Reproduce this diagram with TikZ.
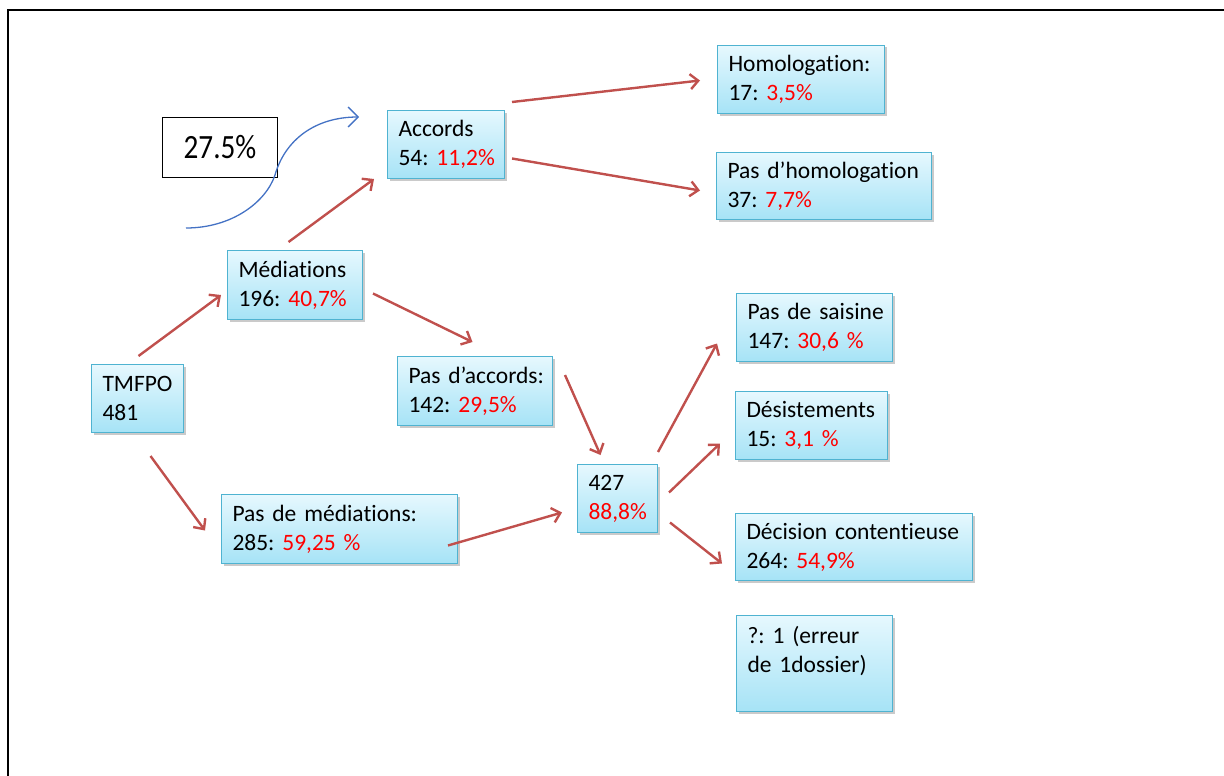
\documentclass[tikz,border=0pt]{standalone}
\usepackage{fontspec}
\setmainfont{Carlito}[Ligatures=NoCommon]
\newfontfamily\narrowfont[FakeStretch=0.86]{Carlito}
\usetikzlibrary{arrows.meta,shadows,calc}

\definecolor{boxtop}{HTML}{E6F8FE}
\definecolor{boxbot}{HTML}{A6E3F6}
\definecolor{boxline}{HTML}{4FB3D1}
\definecolor{arrowred}{HTML}{C0504D}
\definecolor{curveblue}{HTML}{4472C4}
\definecolor{pctred}{HTML}{FF0000}

\newcommand{\pct}[1]{\textcolor{pctred}{#1}}
% two unbroken lines of box text
\newcommand{\twolines}[2]{\mbox{#1}\\\mbox{#2}}

\tikzset{
  box/.style={draw=boxline, line width=1pt, top color=boxtop, bottom color=boxbot,
    drop shadow={shadow xshift=2pt, shadow yshift=-2pt, opacity=0.35, fill=black!60},
    anchor=north west, align=left, inner xsep=11pt, inner ysep=4pt,
    font=\fontsize{23.5}{29}\selectfont},
  flow/.style={draw=arrowred, line width=2.4pt,
    -{Straight Barb[length=8pt,width=15pt,line width=2.4pt]}},
}

\begin{document}
\frenchspacing
\begin{tikzpicture}[x=1pt,y=-1pt]
\useasboundingbox (0,0) rectangle (1224,776);

% page frame (left and top edges)
\draw[line width=2pt] (8,776) -- (8,10) -- (1224,10);

% boxes
\node[box, text width=70pt,  minimum height=68pt] (tmfpo) at (91,364)  {\twolines{TMFPO}{481}};
\node[box, text width=113pt, minimum height=69pt] (med)   at (227,250) {\twolines{Médiations}{196: \pct{40,7\%}}};
\node[box, text width=95pt,  minimum height=68pt] (acc)   at (387,110) {\twolines{Accords}{54: \pct{11,2\%}}};
\node[box, text width=145pt, minimum height=68pt] (hom)   at (717,45)  {\twolines{Homologation:}{17: \pct{3,5\%}}};
\node[box, text width=193pt, minimum height=67pt] (phom)  at (716,152) {\twolines{Pas d’homologation}{37: \pct{7,7\%}}};
\node[box, text width=133pt, minimum height=69pt] (pacc)  at (397,356) {\twolines{Pas d’accords:}{142: \pct{29,5\%}}};
\node[box, text width=214pt, minimum height=69pt] (pmed)  at (221,494) {\twolines{Pas de médiations:}{285: \pct{59,25 \%}}};
\node[box, text width=58pt,  minimum height=68pt] (n427)  at (577,464) {\twolines{427}{\pct{88,8\%}}};
\node[box, text width=134pt, minimum height=68pt] (psai)  at (736,293) {\twolines{Pas de saisine}{147: \pct{30,6 \%}}};
\node[box, text width=130pt, minimum height=68pt] (des)   at (735,391) {\twolines{Désistements}{15: \pct{3,1 \%}}};
\node[box, text width=215pt, minimum height=67pt] (dec)   at (735,513) {\twolines{Décision contentieuse}{264: \pct{54,9\%}}};
\node[box, text width=134pt, minimum height=96pt] (err)   at (736,615) {\twolines{?: 1 (erreur}{de 1dossier)}\\~};

% percentage label
\node[draw=black, line width=1pt, fill=white, anchor=north west,
      minimum width=115pt, minimum height=60pt, inner sep=0pt,
      font=\narrowfont\fontsize{34}{40}\selectfont] (rate) at (162,117) {27.5\%};

% curved blue arrow passing the label
\coordinate (cstart) at (186,228);
\coordinate (cend)   at (359,117);
\draw[curveblue, line width=1.3pt, -{Straight Barb[length=10pt,width=20pt,line width=1.3pt]}]
  (cstart) .. controls (232,228) and (266,202) .. (275,175)
           .. controls (285,140) and (315,117) .. (cend);

% flow arrows
\draw[flow] ([shift={(1,-8)}]tmfpo.north)      -- ([shift={(-6,10)}]med.west);
\draw[flow] ([shift={(13,23)}]tmfpo.south)     -- ([shift={(-16,1.5)}]pmed.west);
\draw[flow] ([shift={(-6.5,-8)}]med.north)     -- ([shift={(-13,0)}]acc.south west);
\draw[flow] ([shift={(10,8.5)}]med.east)       -- ([shift={(-2.5,-14)}]pacc.north);
\draw[flow] ([shift={(7,-8)}]acc.north east)   -- ([shift={(-17,1)}]hom.west);
\draw[flow] ([shift={(7,14)}]acc.east)         -- ([shift={(-16,4.5)}]phom.west);
\draw[flow] ([shift={(12,19)}]pacc.north east) -- ([shift={(-17,-9)}]n427.north);
\draw[flow] ([shift={(-10,16.5)}]pmed.east)    -- ([shift={(-15,14)}]n427.west);
\draw[flow] ([shift={(0,-12)}]n427.north east) -- ([shift={(-19,16)}]psai.west);
\draw[flow] ([shift={(11,-6)}]n427.east)       -- ([shift={(-15,18)}]des.west);
\draw[flow] ([shift={(12,24)}]n427.east)       -- ([shift={(-13,16.5)}]dec.west);
\end{tikzpicture}
\end{document}
